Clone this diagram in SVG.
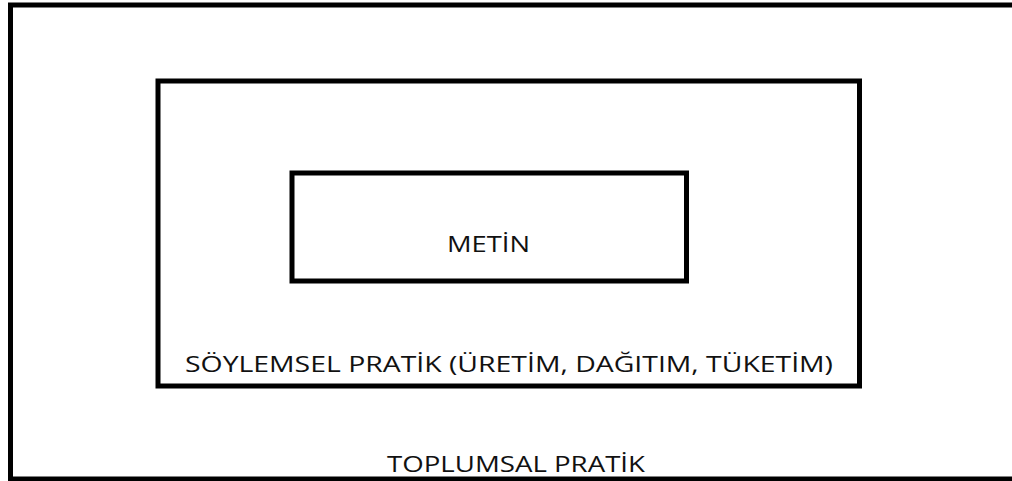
<svg xmlns="http://www.w3.org/2000/svg" width="1012" height="481" viewBox="0 0 1012 481">
<style>
.box{fill:none;stroke:#000;stroke-width:5}
.lbl{font-family:"Open Sans","Liberation Sans",sans-serif;font-size:21px;fill:#111}
</style>
<rect width="1012" height="481" fill="#fff"/>
<g id="toplumsal">
<rect class="box" x="10.5" y="5" width="1010" height="474"/>
<text class="lbl" x="387" y="472" textLength="258" lengthAdjust="spacingAndGlyphs">TOPLUMSAL PRATİK</text>
</g>
<g id="soylemsel">
<rect class="box" x="158" y="81" width="701.5" height="305"/>
<text class="lbl" x="185" y="372" textLength="648" lengthAdjust="spacingAndGlyphs">SÖYLEMSEL PRATİK (ÜRETİM, DAĞITIM, TÜKETİM)</text>
</g>
<g id="metin">
<rect class="box" x="292" y="173" width="394.5" height="108"/>
<text class="lbl" x="447" y="252" textLength="83" lengthAdjust="spacingAndGlyphs">METİN</text>
</g>
<g id="connectors"/>
</svg>
